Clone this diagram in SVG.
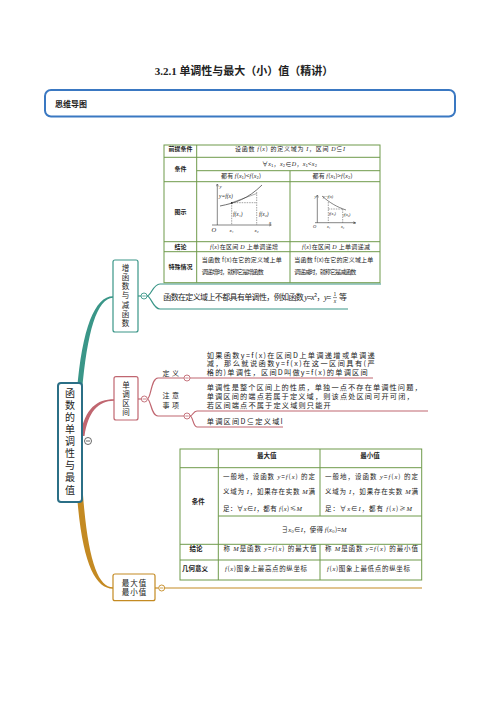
<svg xmlns="http://www.w3.org/2000/svg" width="496" height="702" viewBox="0 0 496 702">
<style>
text{font-family:"Noto Sans CJK SC","Liberation Sans",sans-serif;fill:#222}
.c{text-anchor:middle}
.i{font-family:"Liberation Serif","Noto Sans CJK SC",serif;font-style:italic}
.g{stroke:#6f9a4a;stroke-width:1;fill:none}
.ax{stroke:#333;stroke-width:0.6;fill:none}
.dash{stroke:#444;stroke-width:0.5;stroke-dasharray:1.5 1;fill:none}
.teal{stroke:#3a9688;fill:none;stroke-width:1.2}
.red{stroke:#c06670;fill:none;stroke-width:1.2}
.gold{stroke:#c48a22;fill:none;stroke-width:1.2}
.node{fill:#fff;stroke-width:1.2}
.tc{font-size:6px}
.mm{font-size:7.2px}
.v{writing-mode:vertical-rl}
</style>
<defs>
<marker id="ar" viewBox="0 0 6 6" refX="5" refY="3" markerWidth="5" markerHeight="5" orient="auto"><path d="M0,0.5 L6,3 L0,5.5" fill="none" stroke="#333" stroke-width="0.8"/></marker>
</defs>
<rect width="496" height="702" fill="#fff"/>

<g id="title">
<text x="244" y="75" class="c" font-size="11" font-weight="bold"><tspan font-family="Liberation Serif">3.2.1 </tspan> 单调性与最大（小）值（精讲）</text>
</g>

<g id="header">
<rect x="45" y="90" width="410" height="26.5" rx="6" fill="#fff" stroke="#3a78c2" stroke-width="2"/>
<text x="55" y="107" font-size="8" font-weight="bold">思维导图</text>
</g>

<g id="connectors">
<path d="M77 392 C82 328 95 296.3 113 296.3 L113 297.7 C97 298 87 332 82 392 Z" fill="#3a9688"/>
<path d="M80 436 C85 408 97 399.3 114 399.3 L114 400.7 C98 401 88 412 84.5 436 Z" fill="#c06670"/>
<path d="M77 495 C82 562 95 588.7 113 588.7 L113 587.3 C98 587.3 88 560 83 495 Z" fill="#c48a22"/>
<line x1="138" y1="296" x2="141" y2="296" class="teal"/>
<path d="M147 296 C151 296 153 284 160 284 L381 284" class="teal"/>
<path d="M147 296 C151 296 153 309 160 309 L348 309" class="teal"/>
<line x1="138" y1="399" x2="141.3" y2="399" class="red"/>
<path d="M147.3 399 C151 399 151 378 158 378 L184 378" class="red"/>
<line x1="190" y1="378" x2="373" y2="378" class="red"/>
<path d="M147.3 399 C151 399 151 416 158 416 L184 416" class="red"/>
<path d="M190 416 C193 416 193 411 197 411 L428 411" class="red"/>
<path d="M190 416 C193 416 193 427 197 427 L283 427" class="red"/>
<line x1="155" y1="588" x2="158.7" y2="588" class="gold"/>
<line x1="164.7" y1="588" x2="422" y2="588" class="gold"/>
</g>

<g id="root">
<rect x="58" y="383" width="24" height="119" rx="3" fill="#fff" stroke="#2b6f86" stroke-width="2"/>
<text x="70" y="388" class="v" font-size="10" letter-spacing="2.1">函数的单调性与最值</text>
<circle cx="88" cy="441" r="3.5" fill="#fff" stroke="#444" stroke-width="0.8"/>
<line x1="86" y1="441" x2="90" y2="441" stroke="#444" stroke-width="0.8"/>
</g>

<g id="node-zengjian">
<rect x="113" y="260" width="25" height="72" rx="2" class="node" stroke="#3a9688"/>
<text x="125.5" y="264.3" class="v" font-size="7.5" letter-spacing="1.7">增函数与减函数</text>
<circle cx="144" cy="296" r="3" fill="#fff" stroke="#3a9688" stroke-width="0.9"/>
<line x1="142.3" y1="296" x2="145.7" y2="296" stroke="#3a9688" stroke-width="0.8"/>
</g>

<g id="table1">
<rect x="164" y="145" width="216" height="137.7" class="g"/>
<line x1="196.7" y1="145" x2="196.7" y2="282.7" class="g"/>
<line x1="290" y1="170.7" x2="290" y2="282.7" class="g"/>
<line x1="164" y1="157.3" x2="380" y2="157.3" class="g"/>
<line x1="196.7" y1="170.7" x2="380" y2="170.7" class="g"/>
<line x1="164" y1="181.7" x2="380" y2="181.7" class="g"/>
<line x1="164" y1="241.7" x2="380" y2="241.7" class="g"/>
<line x1="164" y1="251.7" x2="380" y2="251.7" class="g"/>
<text x="180.4" y="151.3" class="c tc" font-weight="bold">前提条件</text>
<text x="290" y="151.3" class="c tc" textLength="110">设函数 <tspan class="i">f</tspan>(<tspan class="i">x</tspan>) 的定义域为 <tspan class="i">I</tspan>，区间 <tspan class="i">D</tspan>⊆<tspan class="i">I</tspan></text>
<text x="180.4" y="171" class="c tc" font-weight="bold">条件</text>
<text x="289.5" y="165.5" class="c tc" textLength="55">∀<tspan class="i">x</tspan>₁，<tspan class="i">x</tspan>₂∈<tspan class="i">D</tspan>，<tspan class="i">x</tspan>₁&lt;<tspan class="i">x</tspan>₂</text>
<text x="241" y="178" class="c tc" textLength="40">都有 <tspan class="i">f</tspan>(<tspan class="i">x</tspan>₁)&lt;<tspan class="i">f</tspan>(<tspan class="i">x</tspan>₂)</text>
<text x="332.5" y="178" class="c tc" textLength="40">都有 <tspan class="i">f</tspan>(<tspan class="i">x</tspan>₁)&gt;<tspan class="i">f</tspan>(<tspan class="i">x</tspan>₂)</text>
<text x="180.4" y="213.7" class="c tc" font-weight="bold">图示</text>
<line x1="217.3" y1="225" x2="217.3" y2="184" class="ax" marker-end="url(#ar)"/>
<line x1="212" y1="225" x2="271" y2="225" class="ax" marker-end="url(#ar)"/>
<path d="M220 206 C235 203 248 199 262 185" fill="none" stroke="#333" stroke-width="0.7"/>
<line x1="231.7" y1="202.7" x2="256.7" y2="193.5" stroke="#333" stroke-width="0.4"/>
<circle cx="231.7" cy="202.9" r="0.9" fill="#222"/>
<line x1="231.7" y1="202.7" x2="231.7" y2="225" class="dash"/>
<line x1="256.7" y1="192" x2="256.7" y2="225" class="dash"/>
<line x1="231.7" y1="202.7" x2="256.7" y2="202.7" class="dash"/>
<text x="219.5" y="188" font-size="5" class="i">y</text>
<text x="219" y="198" font-size="5.5" class="i">y=f(x)</text>
<text x="233" y="215.5" font-size="5.5" class="i">f(x₁)</text>
<text x="259" y="215.5" font-size="5.5" class="i">f(x₂)</text>
<text x="211.5" y="232" font-size="6.5" class="i">O</text>
<text x="229.5" y="231.5" font-size="5" class="i">x₁</text>
<text x="254.5" y="231.5" font-size="5" class="i">x₂</text>
<text x="269" y="223.5" font-size="5" class="i">x</text>
<line x1="317.3" y1="222.7" x2="317.3" y2="195" class="ax" marker-end="url(#ar)"/>
<line x1="315" y1="222.7" x2="355" y2="222.7" class="ax" marker-end="url(#ar)"/>
<path d="M322 196 C330 203 337 207 346 210" fill="none" stroke="#333" stroke-width="0.6"/>
<line x1="328.3" y1="202" x2="328.3" y2="222.7" class="dash"/>
<line x1="342.7" y1="209" x2="342.7" y2="222.7" class="dash"/>
<line x1="328.3" y1="209" x2="342.7" y2="209" class="dash"/>
<text x="314.5" y="198" font-size="4" class="i">y</text>
<text x="323" y="198" font-size="4" class="i">y=f(x)</text>
<text x="329" y="215" font-size="4" class="i">f(x₁)</text>
<text x="343.5" y="216" font-size="4" class="i">f(x₂)</text>
<text x="313" y="228" font-size="4.5" class="i">O</text>
<text x="327" y="228" font-size="4" class="i">x₁</text>
<text x="341" y="228" font-size="4" class="i">x₂</text>
<text x="354" y="224" font-size="4" class="i">x</text>
<text x="180.4" y="249" class="c tc" font-weight="bold">结论</text>
<text x="244" y="249" class="c tc" textLength="68"><tspan class="i">f</tspan>(<tspan class="i">x</tspan>)在区间 <tspan class="i">D</tspan> 上单调递增</text>
<text x="336" y="249" class="c tc" textLength="68"><tspan class="i">f</tspan>(<tspan class="i">x</tspan>)在区间 <tspan class="i">D</tspan> 上单调递减</text>
<text x="180.4" y="269" class="c tc" font-weight="bold">特殊情况</text>
<text class="tc"><tspan x="201.7" y="262.2" textLength="80">当函数 f(x)在它的定义域上单</tspan><tspan x="201.7" y="273.8" textLength="62">调递增时，就称它是增函数</tspan></text>
<text class="tc"><tspan x="294.3" y="262.2" textLength="79">当函数 f(x)在它的定义域上单</tspan><tspan x="294.3" y="273.8" textLength="62">调递减时，就称它是减函数</tspan></text>
</g>

<g id="topic-feidandiao">
<text x="163.3" y="300" font-size="8" textLength="168">函数在定义域上不都具有单调性，例如函数 <tspan class="i">y</tspan>=<tspan class="i">x</tspan>²，<tspan class="i">y</tspan>=</text>
<text x="335" y="296" class="c" font-size="5">1</text>
<line x1="333" y1="297.6" x2="337" y2="297.6" stroke="#222" stroke-width="0.5"/>
<text x="335" y="303.3" class="c i" font-size="5.5">x</text>
<text x="339" y="300" font-size="8">等</text>
</g>

<g id="node-danqu">
<rect x="114" y="376.7" width="24" height="43.3" rx="2" class="node" stroke="#c06670"/>
<text x="126" y="381.3" class="v" font-size="7.5" letter-spacing="1.5">单调区间</text>
<circle cx="144.3" cy="399" r="3" fill="#fff" stroke="#c06670" stroke-width="0.9"/>
<line x1="142.6" y1="399" x2="146" y2="399" stroke="#c06670" stroke-width="0.8"/>
</g>

<g id="topic-dingyi">
<text x="172" y="376" class="c" font-size="7" letter-spacing="2.5">定义</text>
<circle cx="187" cy="378" r="3" fill="#fff" stroke="#c06670" stroke-width="0.9"/>
<line x1="185.3" y1="378" x2="188.7" y2="378" stroke="#c06670" stroke-width="0.8"/>
<text class="mm"><tspan x="206.7" y="357.6" textLength="168">如果函数y=f(x)在区间D上单调递增或单调递</tspan><tspan x="206.7" y="366.4" textLength="168">减，那么就说函数y=f(x)在这一区间具有(严</tspan><tspan x="206.7" y="375.2" textLength="161">格的)单调性，区间D叫做y=f(x)的单调区间</tspan></text>
</g>

<g id="topic-zhuyi">
<text class="c" font-size="7" letter-spacing="2.5"><tspan x="172" y="397.5">注意</tspan><tspan x="172" y="407.5">事项</tspan></text>
<circle cx="187" cy="416" r="3" fill="#fff" stroke="#c06670" stroke-width="0.9"/>
<line x1="185.3" y1="416" x2="188.7" y2="416" stroke="#c06670" stroke-width="0.8"/>
<text class="mm"><tspan x="206.7" y="390.4" textLength="215">单调性是整个区间上的性质，单独一点不存在单调性问题，</tspan><tspan x="206.7" y="399.4" textLength="207">单调区间的端点若属于定义域，则该点处区间可开可闭，</tspan><tspan x="206.7" y="408.4" textLength="124">若区间端点不属于定义域则只能开</tspan></text>
<text x="206.7" y="423.8" class="mm" textLength="76">单调区间D⊆定义域I</text>
</g>

<g id="node-zuizhi">
<rect x="113" y="574" width="42" height="26.7" rx="2" class="node" stroke="#c48a22"/>
<text class="c" font-size="7.5" letter-spacing="1"><tspan x="134.5" y="585.7">最大值</tspan><tspan x="134.5" y="595.2">最小值</tspan></text>
<circle cx="161.7" cy="588" r="3" fill="#fff" stroke="#c48a22" stroke-width="0.9"/>
<line x1="160" y1="588" x2="163.4" y2="588" stroke="#c48a22" stroke-width="0.8"/>
</g>

<g id="table2" font-size="6.5">
<rect x="180" y="449" width="241.7" height="131" class="g"/>
<line x1="218.3" y1="449" x2="218.3" y2="580" class="g"/>
<line x1="320" y1="449" x2="320" y2="516" class="g"/>
<line x1="320" y1="544.3" x2="320" y2="580" class="g"/>
<line x1="180" y1="467.7" x2="421.7" y2="467.7" class="g"/>
<line x1="218.3" y1="516" x2="421.7" y2="516" class="g"/>
<line x1="180" y1="544.3" x2="421.7" y2="544.3" class="g"/>
<line x1="180" y1="560" x2="421.7" y2="560" class="g"/>
<text x="266.7" y="457.5" class="c" font-size="6.5" font-weight="bold">最大值</text>
<text x="370" y="457.5" class="c" font-size="6.5" font-weight="bold">最小值</text>
<text x="198.3" y="504" class="c" font-size="6.5" font-weight="bold">条件</text>
<text x="223" y="479" font-size="6.5" textLength="92">一般地，设函数 <tspan class="i">y</tspan>=<tspan class="i">f</tspan>(<tspan class="i">x</tspan>) 的定</text>
<text x="223" y="494" font-size="6.5" textLength="92">义域为 <tspan class="i">I</tspan>，如果存在实数 <tspan class="i">M</tspan>满</text>
<text x="223" y="511.3" font-size="6.5" textLength="79">足：∀<tspan class="i">x</tspan>∈<tspan class="i">I</tspan>，都有 <tspan class="i">f</tspan>(<tspan class="i">x</tspan>)≤<tspan class="i">M</tspan></text>
<text x="325" y="479" font-size="6.5" textLength="93">一般地，设函数 <tspan class="i">y</tspan>=<tspan class="i">f</tspan>(<tspan class="i">x</tspan>) 的定</text>
<text x="325" y="494" font-size="6.5" textLength="93">义域为 <tspan class="i">I</tspan>，如果存在实数 <tspan class="i">M</tspan>满</text>
<text x="325" y="511.3" font-size="6.5" textLength="87">足：∀<tspan class="i">x</tspan>∈<tspan class="i">I</tspan>，都有 <tspan class="i">f</tspan>(<tspan class="i">x</tspan>)≥<tspan class="i">M</tspan></text>
<text x="314" y="532.3" class="c" font-size="6.5" textLength="65">∃<tspan class="i">x</tspan>₀∈<tspan class="i">I</tspan>，使得 <tspan class="i">f</tspan>(<tspan class="i">x</tspan>₀)=<tspan class="i">M</tspan></text>
<text x="196" y="551.3" class="c" font-size="6.5" font-weight="bold">结论</text>
<text x="270" y="551.3" class="c" font-size="6.5" textLength="93">称 <tspan class="i">M</tspan>是函数 <tspan class="i">y</tspan>=<tspan class="i">f</tspan>(<tspan class="i">x</tspan>) 的最大值</text>
<text x="371.5" y="551.3" class="c" font-size="6.5" textLength="93">称 <tspan class="i">M</tspan>是函数 <tspan class="i">y</tspan>=<tspan class="i">f</tspan>(<tspan class="i">x</tspan>) 的最小值</text>
<text x="195" y="571" class="c" font-size="6.5" font-weight="bold">几何意义</text>
<text x="266" y="571" class="c" font-size="6.5" textLength="82"><tspan class="i">f</tspan>(<tspan class="i">x</tspan>)图象上最高点的纵坐标</text>
<text x="368.5" y="571" class="c" font-size="6.5" textLength="83"><tspan class="i">f</tspan>(<tspan class="i">x</tspan>)图象上最低点的纵坐标</text>
</g>
</svg>
